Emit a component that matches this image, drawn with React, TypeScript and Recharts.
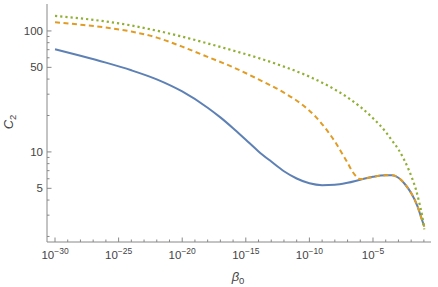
import React from 'react';
import { LineChart, Line, XAxis, YAxis } from 'recharts';

// log10(beta0) sample points and c2 values
const blueExp = [-30, -28, -26, -24, -22, -20, -18, -17, -16, -15, -14, -13, -12, -11, -10, -9, -8, -7, -6, -5, -4, -3.5, -3, -2.5, -2, -1.5, -1.2, -0.97];
const blueVal = [70.6, 62.4, 54.7, 47.3, 39.8, 31.6, 23.2, 19.3, 15.7, 12.6, 10.1, 8.32, 6.92, 6.03, 5.5, 5.31, 5.35, 5.56, 5.89, 6.22, 6.4, 6.4, 6.11, 5.43, 4.57, 3.55, 2.85, 2.42];

const orangeExp = [-30, -28, -26, -24, -22, -20, -18, -16, -14, -12, -10.5, -9.5, -8.5, -8, -7.5, -7, -6.6, -6.3, -6, -5.5, -5, -4, -3.5, -3, -2.5, -2, -1.5, -1.2, -0.97];
const orangeVal = [118, 112.7, 106.7, 98.9, 88.1, 74.1, 61, 50.1, 39.8, 30.9, 24.3, 19.5, 14.5, 12.2, 10, 8.13, 6.84, 6.24, 5.96, 6.05, 6.22, 6.4, 6.4, 6.11, 5.43, 4.57, 3.55, 2.85, 2.42];

const greenExp = [-30, -28, -26, -24, -22, -20, -18, -16, -14, -12, -10, -8.5, -7, -6, -5, -4.5, -4, -3.5, -3, -2.6, -2.2, -1.9, -1.6, -1.35, -1.15, -0.97];
const greenVal = [133, 127, 119.7, 110.9, 100.5, 89.7, 78.9, 68.9, 59.7, 50.7, 41.9, 35.1, 28.2, 23.6, 19, 16.8, 14.6, 12.4, 10.5, 8.81, 7.16, 5.96, 4.79, 3.76, 3.02, 2.29];

const xMajorExp = [-30, -25, -20, -15, -10, -5];
const yMajor = [5, 10, 50, 100];
const yMinor = [2, 3, 4, 6, 7, 8, 9, 20, 30, 40, 60, 70, 80, 90];

const xTicks: number[] = [];
for (let e = -30; e <= -1; e++) xTicks.push(Math.pow(10, e));
const yTicks = [...yMinor, ...yMajor].sort((a, b) => a - b);

const xDomain = [Math.pow(10, -30.63), Math.pow(10, -0.44)];
const yDomain = [1.8, 167];

// merge the three series on one beta axis
const allExp = Array.from(new Set([...blueExp, ...orangeExp, ...greenExp])).sort((a, b) => a - b);
const data = allExp.map((e) => {
  const row: any = { beta: Math.pow(10, e) };
  const bi = blueExp.indexOf(e);
  const oi = orangeExp.indexOf(e);
  const gi = greenExp.indexOf(e);
  if (bi >= 0) row.blue = blueVal[bi];
  if (oi >= 0) row.orange = orangeVal[oi];
  if (gi >= 0) row.green = greenVal[gi];
  return row;
});

const FONT = '"Liberation Sans", Arial, sans-serif';
const TICK_COLOR = '#444';
const AXIS_COLOR = '#888';

const isMajorX = (v: number) => xMajorExp.some((e) => Math.abs(Math.log10(v) - e) < 1e-6);

const BottomTick = (props: any) => {
  const { x, y, payload } = props;
  const major = isMajorX(payload.value);
  const exp = Math.round(Math.log10(payload.value));
  return (
    <g>
      <line x1={x} x2={x} y1={y} y2={y - (major ? 4.5 : 2.5)} stroke={AXIS_COLOR} strokeWidth={1} />
      {major && (
        <text x={x} y={y + 17} textAnchor="middle" fill={TICK_COLOR} fontFamily={FONT} fontSize={11.5}>
          <tspan>10</tspan>
          <tspan dy={-5} fontSize={8.5}>{'\u2212' + Math.abs(exp)}</tspan>
        </text>
      )}
    </g>
  );
};

const TopTick = (props: any) => {
  const { x, y, payload } = props;
  const major = isMajorX(payload.value);
  return <line x1={x} x2={x} y1={y} y2={y + (major ? 4.5 : 2.5)} stroke="#999" strokeWidth={1} />;
};

const LeftTick = (props: any) => {
  const { x, y, payload } = props;
  const major = yMajor.includes(payload.value);
  return (
    <g>
      <line x1={x} x2={x + (major ? 4.5 : 2.5)} y1={y} y2={y} stroke={AXIS_COLOR} strokeWidth={1} />
      {major && (
        <text x={x - 4} y={y + 4} textAnchor="end" fill={TICK_COLOR} fontFamily={FONT} fontSize={11.5}>
          {payload.value}
        </text>
      )}
    </g>
  );
};

const RightTick = (props: any) => {
  const { x, y, payload } = props;
  const major = yMajor.includes(payload.value);
  return <line x1={x} x2={x - (major ? 4.5 : 2.5)} y1={y} y2={y} stroke="#999" strokeWidth={1} />;
};

const YTitle = () => (
  <text transform="translate(13,122) rotate(-90)" textAnchor="middle" fill={TICK_COLOR} fontFamily={FONT} fontSize={13}>
    <tspan fontStyle="italic">C</tspan>
    <tspan dy={3} fontSize={9.5}>2</tspan>
  </text>
);

const XTitle = () => (
  <text x={238} y={281} textAnchor="middle" fill={TICK_COLOR} fontFamily={FONT} fontSize={13}>
    <tspan fontStyle="italic">β</tspan>
    <tspan dy={3} fontSize={9.5}>0</tspan>
  </text>
);

export default function App() {
  return (
    <div style={{ position: 'absolute', left: 0, top: 0, background: '#fff' }}>
      <LineChart width={438} height={287} data={data} margin={{ top: 4, right: 7, bottom: 0, left: 0 }}>
        <XAxis
          xAxisId="b"
          dataKey="beta"
          type="number"
          scale="log"
          domain={xDomain}
          ticks={xTicks}
          allowDataOverflow
          height={45}
          tickSize={0}
          tickMargin={0}
          tickLine={false}
          interval={0}
          stroke={AXIS_COLOR}
          tick={<BottomTick />}
          label={{ content: () => <XTitle /> }}
        />
        <XAxis
          xAxisId="t"
          orientation="top"
          dataKey="beta"
          type="number"
          scale="log"
          domain={xDomain}
          ticks={xTicks}
          allowDataOverflow
          height={0}
          tickSize={0}
          tickMargin={0}
          tickLine={false}
          interval={0}
          stroke="#999"
          tick={<TopTick />}
        />
        <YAxis
          yAxisId="l"
          type="number"
          scale="log"
          domain={yDomain}
          ticks={yTicks}
          allowDataOverflow
          width={47}
          tickSize={0}
          tickMargin={0}
          tickLine={false}
          interval={0}
          stroke={AXIS_COLOR}
          tick={<LeftTick />}
          label={{ content: () => <YTitle /> }}
        />
        <YAxis
          yAxisId="r"
          orientation="right"
          type="number"
          scale="log"
          domain={yDomain}
          ticks={yTicks}
          allowDataOverflow
          width={0}
          tickSize={0}
          tickMargin={0}
          tickLine={false}
          interval={0}
          stroke="#999"
          tick={<RightTick />}
        />
        <Line
          xAxisId="b"
          yAxisId="l"
          dataKey="blue"
          type="monotone"
          connectNulls
          stroke="#5E81B5"
          strokeWidth={2}
          dot={false}
          isAnimationActive={false}
        />
        <Line
          xAxisId="b"
          yAxisId="l"
          dataKey="orange"
          type="monotone"
          connectNulls
          stroke="#E19C24"
          strokeWidth={2}
          strokeDasharray="5 3.5"
          dot={false}
          isAnimationActive={false}
        />
        <Line
          xAxisId="b"
          yAxisId="l"
          dataKey="green"
          type="monotone"
          connectNulls
          stroke="#8FB032"
          strokeWidth={2.2}
          strokeDasharray="2.2 3"
          dot={false}
          isAnimationActive={false}
        />
      </LineChart>
    </div>
  );
}
